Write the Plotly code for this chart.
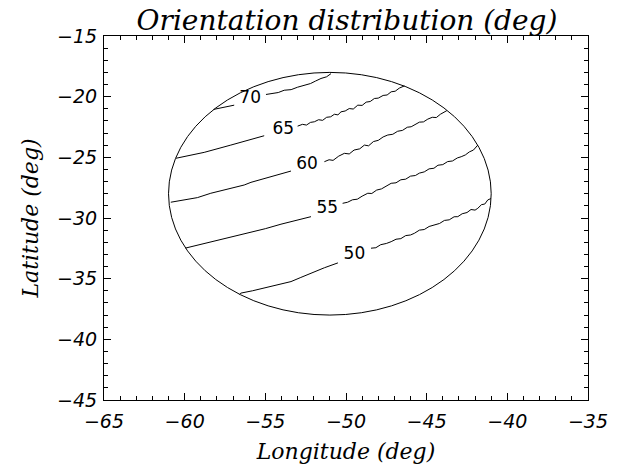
import plotly.graph_objects as go

# ---------------- data ----------------
title_text = "Orientation distribution (deg)"
x_title = "Longitude (deg)"
y_title = "Latitude (deg)"

x_range = [-65, -35]
y_range = [-45, -15]

# boundary ellipse (data coords)
ellipse_center = (-51.0, -28.0)
ellipse_radius = (10.0, 10.0)

contour_levels = [70, 65, 60, 55, 50]

c70_lon = [-58.21, -57.6, -56.93, None,
           -54.96, -54.6, -54.2, -53.83, -53.4, -53.0, -52.59, -52.2, -51.9, -51.55, -51.2, -50.93]
c70_lat = [-21.05, -20.88, -20.70, None,
           -19.82, -19.74, -19.66, -19.47, -19.42, -19.22, -19.06, -18.92, -18.72, -18.5, -18.36, -18.1]

c65_lon = [-60.55, -59.7, -58.79, -57.14, -56.1, -55.07, None,
           -53.0, -52.7, -52.45, -52.2, -51.96, -51.7, -51.45, -51.2, -50.95, -50.72, -50.5,
           -50.31, -50.05, -49.8, -49.55, -49.27, -49.0, -48.75, -48.5, -48.24, -48.0, -47.7,
           -47.45, -47.2, -46.95, -46.7, -46.38]
c65_lat = [-25.08, -24.85, -24.59, -23.99, -23.6, -23.22, None,
           -22.43, -22.28, -22.34, -22.12, -22.07, -21.9, -21.95, -21.7, -21.66, -21.45, -21.5,
           -21.25, -21.18, -20.98, -21.02, -20.70, -20.72, -20.45, -20.4, -20.15, -20.12, -19.9,
           -19.86, -19.6, -19.55, -19.3, -19.11]

c60_lon = [-60.86, -60.1, -59.21, -58.38, -57.3, -56.31, -55.89, -54.6, -53.41, None,
           -51.34, -51.05, -50.8, -50.45, -50.10, -49.8, -49.5, -49.15, -48.86, -48.6, -48.3,
           -48.0, -47.7, -47.41, -47.1, -46.8, -46.5, -46.2, -45.96, -45.7, -45.45, -45.2,
           -44.93, -44.65, -44.4, -44.15, -43.9, -43.75]
c60_lat = [-28.7, -28.52, -28.32, -27.96, -27.6, -27.28, -27.06, -26.6, -26.13, None,
           -25.36, -25.2, -25.25, -24.9, -24.67, -24.72, -24.4, -24.3, -23.99, -24.05, -23.7,
           -23.6, -23.32, -23.16, -23.1, -22.85, -22.78, -22.52, -22.48, -22.3, -22.1, -22.08,
           -21.85, -21.7, -21.72, -21.45, -21.25, -21.15]

c55_lon = [-59.95, -59.83, -58.17, -57.1, -56.1, -55.0, -54.03, -53.1, -52.17, None,
           -50.21, -49.9, -49.6, -49.3, -49.0, -48.65, -48.4, -48.1, -47.8, -47.5, -47.2,
           -46.9, -46.6, -46.3, -46.0, -45.7, -45.45, -45.15, -44.85, -44.55, -44.3, -44.0,
           -43.7, -43.4, -43.1, -42.86, -42.6, -42.35, -42.1, -41.83]
c55_lat = [-32.48, -32.44, -31.95, -31.6, -31.26, -30.88, -30.51, -30.2, -29.89, None,
           -28.79, -28.7, -28.5, -28.45, -28.2, -27.96, -27.98, -27.7, -27.6, -27.4, -27.14,
           -27.1, -26.85, -26.8, -26.55, -26.5, -26.3, -26.2, -25.95, -25.9, -25.65, -25.6,
           -25.35, -25.3, -25.05, -24.95, -24.8, -24.55, -24.4, -23.99]

c50_lon = [-56.6, -56.52, -55.8, -55.07, -54.2, -53.41, -52.8, -52.17, -51.34, -50.5, None,
           -48.45, -48.15, -47.85, -47.5, -47.2, -46.9, -46.6, -46.3, -46.0, -45.76, -45.45,
           -45.15, -44.85, -44.52, -44.2, -43.9, -43.6, -43.3, -43.07, -42.8, -42.5, -42.25,
           -42.0, -41.83, -41.6, -41.4, -41.21, -41.02]
c50_lat = [-36.3, -36.19, -36.0, -35.78, -35.5, -35.24, -34.9, -34.55, -34.1, -33.7, None,
           -32.49, -32.45, -32.2, -32.1, -31.95, -31.75, -31.7, -31.45, -31.4, -31.26, -31.0,
           -30.95, -30.7, -30.57, -30.45, -30.2, -30.15, -29.9, -29.89, -29.65, -29.55, -29.3,
           -29.35, -29.2, -28.9, -28.85, -28.51, -28.4]

label_lon = [-55.94, -53.89, -52.42, -51.16, -49.48]
label_lat = [-20.15, -22.7, -25.63, -29.27, -33.04]

# ---------------- figure ----------------
fig = go.Figure()

contours = [(c70_lon, c70_lat), (c65_lon, c65_lat), (c60_lon, c60_lat),
            (c55_lon, c55_lat), (c50_lon, c50_lat)]
for lvl, (lx, ly) in zip(contour_levels, contours):
    fig.add_trace(go.Scatter(x=lx, y=ly, mode="lines", name=str(lvl),
                             line=dict(color="black", width=1),
                             connectgaps=False, showlegend=False, hoverinfo="skip"))

fig.add_trace(go.Scatter(x=label_lon, y=label_lat, mode="text",
                         text=[str(v) for v in contour_levels],
                         textposition="middle center",
                         textfont=dict(family="DejaVu Sans", size=17, color="black"),
                         showlegend=False, hoverinfo="skip"))

cx, cy = ellipse_center
rx, ry = ellipse_radius
fig.add_shape(type="circle", xref="x", yref="y",
              x0=cx - rx, x1=cx + rx, y0=cy - ry, y1=cy + ry,
              line=dict(color="black", width=1))

tick_font = dict(family="DejaVu Sans", size=19, color="black", style="italic")
title_font = dict(family="DejaVu Serif", size=22, color="black", style="italic")

axis_common = dict(
    showgrid=False, zeroline=False, showline=True, linecolor="black", linewidth=1,
    mirror="ticks", ticks="inside", ticklen=7, tickwidth=1, tickcolor="black",
    dtick=5, tickfont=tick_font,
    minor=dict(ticks="inside", ticklen=4, dtick=1, tickwidth=1, tickcolor="black", showgrid=False),
)

fig.update_xaxes(range=x_range, tick0=-65, title=dict(text=x_title, font=title_font, standoff=12),
                 ticklabelstandoff=4, **axis_common)
fig.update_yaxes(range=y_range, tick0=-45, title=dict(text=y_title, font=title_font, standoff=12),
                 ticklabelstandoff=2, **axis_common)

fig.update_layout(
    width=626, height=466,
    margin=dict(l=104, r=38, t=36, b=66, autoexpand=False),
    paper_bgcolor="white", plot_bgcolor="white",
    title=dict(text=title_text, x=347 / 626, xanchor="center", y=1 - 10 / 466, yanchor="top",
               yref="container", pad=dict(t=0, b=0),
               font=dict(family="DejaVu Serif", size=28, color="black", style="italic")),
    showlegend=False,
)

# remove the default page margin so the figure sits at the window's top-left corner
fig.write_html("out.html", config={"displayModeBar": False},
               post_script="document.body.style.margin='0px';")
